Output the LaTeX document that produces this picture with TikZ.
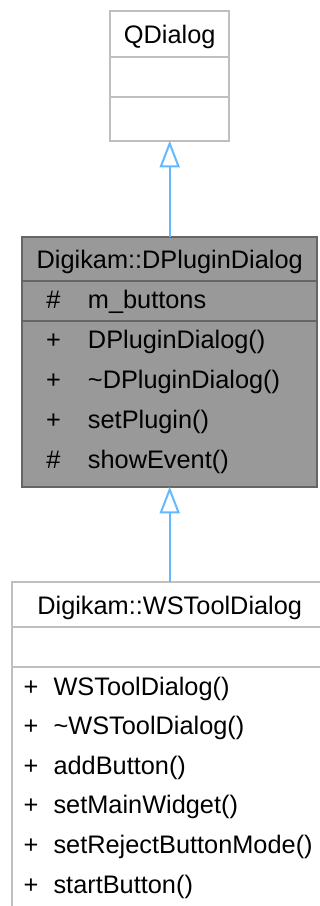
\documentclass[tikz,border=0pt]{standalone}
\usepackage{fontspec}
\setmainfont{Liberation Sans}
\usetikzlibrary{arrows.meta,positioning}

\definecolor{boxline}{HTML}{BFBFBF}
\definecolor{darkfill}{HTML}{999999}
\definecolor{darkline}{HTML}{666666}
\definecolor{inheritblue}{HTML}{63B8FF}

\begin{document}
\begin{tikzpicture}[
    x=0.75pt, y=-0.75pt,
    font=\fontsize{19}{23}\selectfont,
    boxsize/.style 2 args={
        minimum width=#1*0.75pt,
        minimum height=#2*0.75pt
    },
    classpart/.style={
        draw=boxline,
        line width=1.5pt,
        fill=white,
        inner sep=0pt,
        outer sep=0pt
    },
    dark_part/.style={
        classpart,
        draw=darkline,
        fill=darkfill
    },
    titlepart/.style={text height=14.7pt, text depth=0pt},
    membertext/.style={inner sep=0pt, anchor=base west},
    vistext/.style={inner sep=0pt, anchor=base},
    derive/.style={
        draw=inheritblue,
        line width=1.5pt,
        -{Triangle[open, length=20pt, width=15pt]}
    }
]
\path[use as bounding box] (0,0) rectangle (320,906);
\clip (0,0) rectangle (320,906);

% QDialog
\node[classpart, titlepart, boxsize={119.3}{46}, anchor=north] (qdialog title) at (169.7,10.7) {QDialog};
\node[classpart, boxsize={119.3}{40}, below=0pt of qdialog title] (qdialog attrs) {};
\node[classpart, boxsize={119.3}{44}, below=0pt of qdialog attrs] (qdialog ops) {};

% Digikam::DPluginDialog
\node[dark_part, titlepart, boxsize={295}{44.5}, anchor=north] (dplugin title) at (169.7,236.7) {Digikam::DPluginDialog};
\node[dark_part, boxsize={295}{39.5}, below=0pt of dplugin title] (dplugin attrs) {};
\node[dark_part, boxsize={295}{166}, below=0pt of dplugin attrs] (dplugin ops) {};

\node[vistext] (dplugin attr vis) at (53.5,308.7) {\#};
\node[membertext] (dplugin attr) at (87.7,308.7) {m\_buttons};
\foreach \sym/\name [count=\i from 0] in {+/DPluginDialog(), +/\textasciitilde DPluginDialog(), +/setPlugin(), \#/showEvent()} {
    \node[vistext] (dplugin vis \i) at (53.5,348+40*\i) {\sym};
    \node[membertext] (dplugin op \i) at (87.7,348+40*\i) {\name};
}

% Digikam::WSToolDialog
\node[classpart, titlepart, boxsize={316}{45.6}, anchor=north] (wstool title) at (169.7,581.7) {Digikam::WSToolDialog};
\node[classpart, boxsize={316}{40}, below=0pt of wstool title] (wstool attrs) {};
\node[classpart, boxsize={316}{244.4}, below=0pt of wstool attrs] (wstool ops) {};

\foreach \name [count=\i from 0] in {WSToolDialog(), \textasciitilde WSToolDialog(), addButton(), setMainWidget(), setRejectButtonMode(), startButton()} {
    \node[vistext] (wstool vis \i) at (31,695+39.6*\i) {+};
    \node[membertext] (wstool op \i) at (53.3,695+39.6*\i) {\name};
}

% Vererbung
\draw[derive] (dplugin title.north) -- (qdialog ops.south);
\draw[derive] (wstool title.north) -- (dplugin ops.south);

\end{tikzpicture}
\end{document}
